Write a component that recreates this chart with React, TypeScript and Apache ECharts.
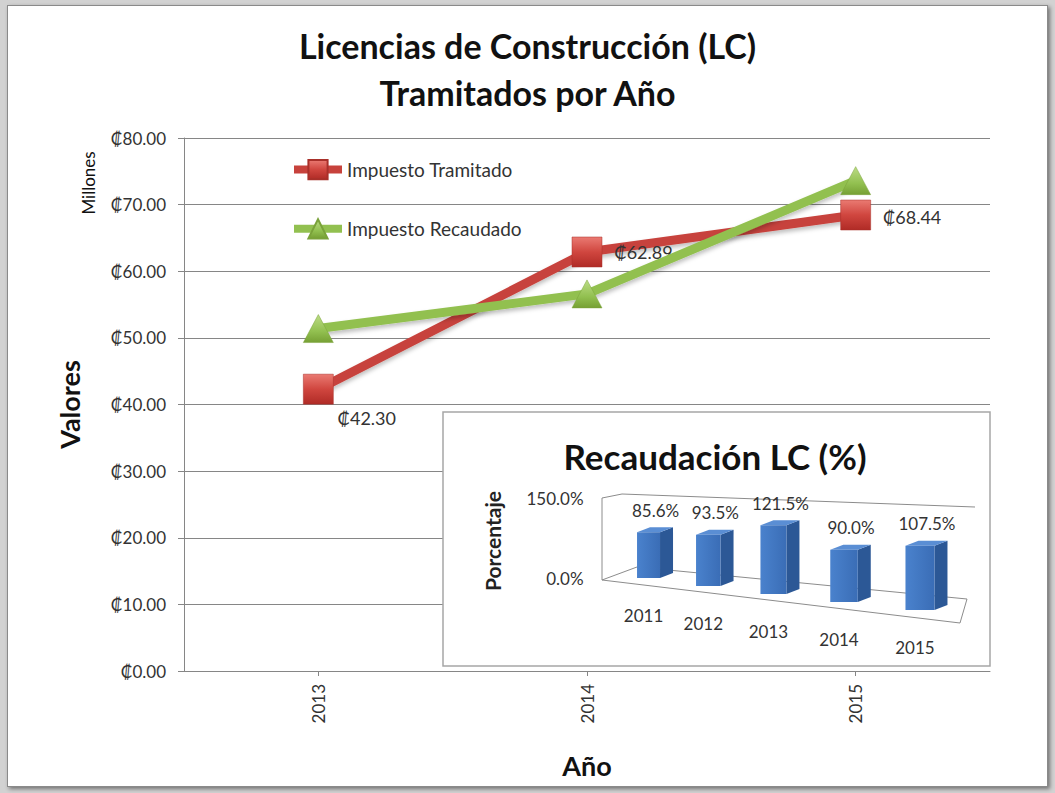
import React, { useEffect, useRef } from "react";
import * as echarts from "echarts";

// ---- Data ----
const years = ["2013", "2014", "2015"];
const impuestoTramitado = [42.3, 62.89, 68.44];
const impuestoRecaudado = [51.4, 56.6, 73.6];
const yTicksMax = 80;
const yTicksInterval = 10;

const insetYears = ["2011", "2012", "2013", "2014", "2015"];
const recaudacionPct = [85.6, 93.5, 121.5, 90.0, 107.5];
const insetAxisMax = 150;

const FONT = 'Lato, "Open Sans", "DejaVu Sans", sans-serif';

export default function App() {
  const ref = useRef<HTMLDivElement>(null);

  useEffect(() => {
    if (!ref.current) return;
    const chart = echarts.init(ref.current, undefined, { renderer: "svg" });

    const redMarker = new echarts.graphic.LinearGradient(0, 0, 0, 1, [
      { offset: 0, color: "#ea7a72" },
      { offset: 0.5, color: "#d0463f" },
      { offset: 1, color: "#b02b26" },
    ]);
    const greenMarker = new echarts.graphic.LinearGradient(0, 0, 0, 1, [
      { offset: 0, color: "#bcdc86" },
      { offset: 0.6, color: "#92c050" },
      { offset: 1, color: "#76a034" },
    ]);

    const tramitadoLabelPlacement = [
      { distance: 4, offset: [0, 29] },
      { distance: 12, offset: [0, 0] },
      { distance: 12, offset: [0, 2] },
    ];

    const tramitadoData = impuestoTramitado.map((v, i) => ({
      value: v,
      label: {
        show: true,
        position: "right",
        distance: tramitadoLabelPlacement[i].distance,
        offset: tramitadoLabelPlacement[i].offset,
      },
    }));

    const insetData = insetYears.map((_, i) => [i, recaudacionPct[i]]);

    const renderBar = (params: any, api: any) => {
      const i = api.value(0);
      const v = api.value(1);
      const base = api.coord([i, 0]);
      const tp = api.coord([i, v]);
      const cx = base[0] + 2.7 * (i * i - 4 * i);
      const s = 1 + 0.03 * i;
      const bottom = base[1] + 8 * i;
      const h = (base[1] - tp[1]) * s;
      const top = bottom - h;
      const w = 23 + 1.5 * i;
      const dx = 13;
      const dy = -5;
      const x0 = cx - w / 2;
      const x1 = cx + w / 2;
      return {
        type: "group",
        children: [
          {
            type: "polygon",
            shape: {
              points: [
                [x1, top],
                [x1 + dx, top + dy],
                [x1 + dx, bottom + dy],
                [x1, bottom],
              ],
            },
            style: { fill: "#2c5896" },
          },
          {
            type: "polygon",
            shape: {
              points: [
                [x0, top],
                [x0 + dx, top + dy],
                [x1 + dx, top + dy],
                [x1, top],
              ],
            },
            style: { fill: "#5a8ed4" },
          },
          {
            type: "rect",
            shape: { x: x0, y: top, width: w, height: h },
            style: {
              fill: new echarts.graphic.LinearGradient(0, 0, 1, 0, [
                { offset: 0, color: "#4a82cd" },
                { offset: 1, color: "#3a6db6" },
              ]),
            },
          },
          {
            type: "text",
            style: {
              x: cx + 7,
              y: top - 22,
              text: v.toFixed(1) + "%",
              align: "center",
              verticalAlign: "middle",
              fontSize: 17,
              fontFamily: FONT,
              fill: "#333",
            },
          },
          {
            type: "text",
            style: {
              x: cx - 5,
              y: bottom + 37,
              text: insetYears[i],
              align: "center",
              verticalAlign: "middle",
              fontSize: 17,
              fontFamily: FONT,
              fill: "#333",
            },
          },
        ],
      };
    };

    const wallStyle = { stroke: "#8c8c8c", lineWidth: 1, fill: null as any };

    const option: any = {
      animation: false,
      textStyle: { fontFamily: FONT },
      title: {
        text: "Licencias de Construcción (LC)\nTramitados por Año",
        left: "center",
        top: 17,
        textStyle: {
          fontFamily: FONT,
          fontSize: 34,
          fontWeight: "bold",
          color: "#111",
          lineHeight: 47,
        },
      },
      legend: {
        orient: "vertical",
        left: 285,
        top: 154,
        itemWidth: 48,
        itemHeight: 24,
        itemGap: 38,
        lineStyle: { width: 8 },
        textStyle: { fontSize: 19, color: "#333", fontFamily: FONT },
        data: ["Impuesto Tramitado", "Impuesto Recaudado"],
      },
      grid: [
        { left: 184, right: 65, top: 138, bottom: 122 },
        { left: 614.6, right: 101.1, top: 498, bottom: 215 },
      ],
      xAxis: [
        {
          type: "category",
          gridIndex: 0,
          data: years,
          boundaryGap: true,
          axisLine: { lineStyle: { color: "#868686" } },
          axisTick: { show: true, alignWithLabel: true, length: 5, lineStyle: { color: "#868686" } },
          axisLabel: { rotate: 90, margin: 13, fontSize: 17, color: "#333", fontFamily: FONT },
          name: "Año",
          nameLocation: "middle",
          nameGap: 81,
          nameTextStyle: { fontSize: 27, fontWeight: "bold", color: "#111", fontFamily: FONT },
        },
        {
          type: "category",
          gridIndex: 1,
          data: insetYears,
          show: false,
        },
      ],
      yAxis: [
        {
          type: "value",
          gridIndex: 0,
          min: 0,
          max: yTicksMax,
          interval: yTicksInterval,
          axisLine: { show: true, lineStyle: { color: "#868686" } },
          axisTick: { show: true, length: 6, lineStyle: { color: "#868686" } },
          splitLine: { show: true, lineStyle: { color: "#868686", width: 1 } },
          axisLabel: {
            margin: 18,
            fontSize: 17,
            color: "#333",
            fontFamily: FONT,
            formatter: (v: number) => "₡" + v.toFixed(2),
          },
          name: "Valores",
          nameLocation: "middle",
          nameGap: 101,
          nameTextStyle: { fontSize: 27, fontWeight: "bold", color: "#111", fontFamily: FONT },
        },
        {
          type: "value",
          gridIndex: 1,
          min: 0,
          max: insetAxisMax,
          interval: insetAxisMax,
          z: 4,
          axisLine: { show: false },
          axisTick: { show: false },
          splitLine: { show: false },
          axisLabel: {
            margin: 31,
            fontSize: 17,
            color: "#333",
            fontFamily: FONT,
            formatter: (v: number) => v.toFixed(1) + "%",
          },
        },
      ],
      series: [
        {
          name: "Impuesto Tramitado",
          type: "line",
          xAxisIndex: 0,
          yAxisIndex: 0,
          data: tramitadoData,
          symbol: "rect",
          symbolSize: 30,
          lineStyle: {
            color: "#c7423c",
            width: 9,
            shadowColor: "rgba(0,0,0,0.25)",
            shadowBlur: 4,
            shadowOffsetY: 3,
          },
          itemStyle: { color: redMarker, borderColor: "#a8302a", borderWidth: 0.5 },
          label: {
            fontSize: 18,
            color: "#333",
            fontFamily: FONT,
            formatter: (p: any) => "₡" + Number(p.value).toFixed(2),
          },
          z: 2,
        },
        {
          name: "Impuesto Recaudado",
          type: "line",
          xAxisIndex: 0,
          yAxisIndex: 0,
          data: impuestoRecaudado,
          symbol: "triangle",
          symbolSize: [30, 28],
          lineStyle: {
            color: "#92c050",
            width: 9,
            shadowColor: "rgba(0,0,0,0.25)",
            shadowBlur: 4,
            shadowOffsetY: 3,
          },
          itemStyle: { color: greenMarker, borderColor: "#7aa23a", borderWidth: 0.5 },
          z: 3,
        },
        {
          name: "Recaudación",
          type: "custom",
          xAxisIndex: 1,
          yAxisIndex: 1,
          data: insetData,
          encode: { x: 0, y: 1 },
          renderItem: renderBar,
          z: 4,
        },
      ],
      graphic: [
        {
          type: "text",
          x: 88,
          y: 183,
          rotation: Math.PI / 2,
          style: {
            text: "Millones",
            fontSize: 17,
            fontFamily: FONT,
            fill: "#111",
            align: "center",
            verticalAlign: "middle",
          },
          z: 5,
        },
        {
          type: "rect",
          shape: { x: 443, y: 412, width: 547, height: 254 },
          style: { fill: "#ffffff", stroke: "#a6a6a6", lineWidth: 1.5 },
          z: 1,
        },
        {
          type: "text",
          x: 715,
          y: 456,
          style: {
            text: "Recaudación LC (%)",
            fontSize: 35,
            fontWeight: "bold",
            fontFamily: FONT,
            fill: "#111",
            align: "center",
            verticalAlign: "middle",
          },
          z: 5,
        },
        {
          type: "text",
          x: 492,
          y: 541,
          rotation: Math.PI / 2,
          style: {
            text: "Porcentaje",
            fontSize: 21,
            fontWeight: "bold",
            fontFamily: FONT,
            fill: "#222",
            align: "center",
            verticalAlign: "middle",
          },
          z: 5,
        },
        {
          type: "polyline",
          shape: { points: [[602, 580], [602, 498], [622, 494], [975, 507]] },
          style: wallStyle,
          z: 2,
        },
        {
          type: "polyline",
          shape: { points: [[602, 580], [637, 567], [967, 599], [960, 623], [602, 580]] },
          style: wallStyle,
          z: 2,
        },
      ],
    };

    chart.setOption(option);
    return () => chart.dispose();
  }, []);

  return (
    <div
      style={{
        position: "absolute",
        left: 0,
        top: 0,
        width: 1055,
        height: 793,
        background: "#d2d2d2",
        overflow: "hidden",
      }}
    >
      <div
        style={{
          position: "absolute",
          left: 7,
          top: 5,
          width: 1039,
          height: 780,
          background: "#ffffff",
          border: "1px solid #8a8a8a",
          boxShadow: "2px 2px 4px rgba(0,0,0,0.45)",
        }}
      />
      <div
        ref={ref}
        style={{ position: "absolute", left: 0, top: 0, width: 1055, height: 793 }}
      />
    </div>
  );
}
